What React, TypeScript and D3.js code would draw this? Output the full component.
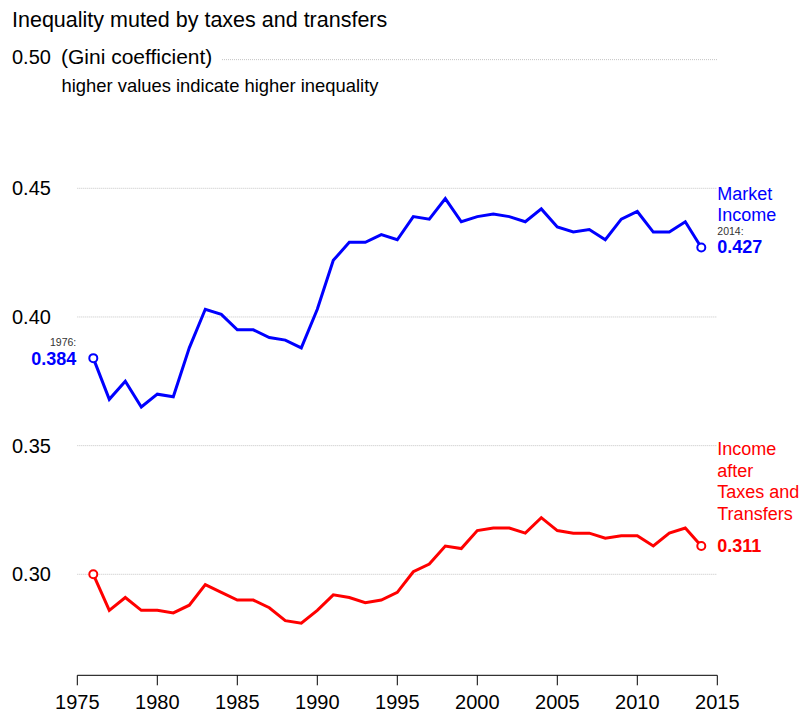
import React from "react";
import * as d3 from "d3";

const years: number[] = d3.range(1976, 2015);
const marketIncome: number[] = [
  0.384, 0.368, 0.375, 0.365, 0.370, 0.369, 0.388, 0.403, 0.401, 0.395,
  0.395, 0.392, 0.391, 0.388, 0.403, 0.422, 0.429, 0.429, 0.432, 0.430,
  0.439, 0.438, 0.446, 0.437, 0.439, 0.440, 0.439, 0.437, 0.442, 0.435,
  0.433, 0.434, 0.430, 0.438, 0.441, 0.433, 0.433, 0.437, 0.427,
];
const afterTaxes: number[] = [
  0.300, 0.286, 0.291, 0.286, 0.286, 0.285, 0.288, 0.296, 0.293, 0.290,
  0.290, 0.287, 0.282, 0.281, 0.286, 0.292, 0.291, 0.289, 0.290, 0.293,
  0.301, 0.304, 0.311, 0.310, 0.317, 0.318, 0.318, 0.316, 0.322, 0.317,
  0.316, 0.316, 0.314, 0.315, 0.315, 0.311, 0.316, 0.318, 0.311,
];
const xTicks: number[] = [1975, 1980, 1985, 1990, 1995, 2000, 2005, 2010, 2015];
const yTicks: number[] = [0.30, 0.35, 0.40, 0.45, 0.50];
const title = "Inequality muted by taxes and transfers";
const yUnit = "(Gini coefficient)";
const subtitle = "higher values indicate higher inequality";
const marketLabel = ["Market", "Income"];
const afterLabel = ["Income", "after", "Taxes and", "Transfers"];

const FONT = "'Liberation Sans', Arial, Helvetica, sans-serif";
const BLUE = "#0000ff";
const RED = "#ff0000";

export default function App() {
  const W = 803;
  const H = 713;
  const x = d3.scaleLinear().domain([1975, 2015]).range([77.3, 717.3]);
  const y = d3.scaleLinear().domain([0.30, 0.45]).range([574.3, 188.3]);
  const axisY = 675.3;
  const line = d3
    .line<number>()
    .x((_, i) => x(years[i]))
    .y((d) => y(d));

  const firstYear = years[0];
  const lastYear = years[years.length - 1];
  const mLast = marketIncome[marketIncome.length - 1];
  const aLast = afterTaxes[afterTaxes.length - 1];
  const mFirst = marketIncome[0];
  const aFirst = afterTaxes[0];
  const labelX = x(lastYear) + 16;
  const leftX = x(firstYear) - 17;
  const topTick = yTicks[yTicks.length - 1];

  return (
    <svg
      width={W}
      height={H}
      style={{ position: "absolute", left: 0, top: 0, background: "#fff" }}
      fontFamily={FONT}
    >
      <rect x={0} y={0} width={W} height={H} fill="#fff" />
      <text x={12} y={27.3} fontSize={21.5} fill="#000">
        {title}
      </text>

      {/* gridlines */}
      {yTicks.map((t) => (
        <line
          key={t}
          x1={t === topTick ? 222 : x(1975)}
          x2={x(2015)}
          y1={y(t)}
          y2={y(t)}
          stroke="#c4c4c4"
          strokeWidth={1}
          strokeDasharray="1,1"
        />
      ))}
      {yTicks.map((t) =>
        t === topTick ? (
          <text key={"l" + t} x={12} y={y(t) + 4.5} fontSize={20} fill="#000">
            {d3.format(".2f")(t)}
            <tspan x={61} fontSize={21}>
              {yUnit}
            </tspan>
          </text>
        ) : (
          <text key={"l" + t} x={12} y={y(t)} dy="0.35em" fontSize={20} fill="#000">
            {d3.format(".2f")(t)}
          </text>
        )
      )}
      <text x={61.5} y={92} fontSize={18.4} fill="#000">
        {subtitle}
      </text>

      {/* x axis */}
      <line x1={x(1975)} x2={x(2015)} y1={axisY} y2={axisY} stroke="#000" strokeWidth={1} />
      {xTicks.map((t) => (
        <g key={t}>
          <line x1={x(t)} x2={x(t)} y1={axisY} y2={axisY + 10} stroke="#000" strokeWidth={1} />
          <text x={x(t)} y={709.3} textAnchor="middle" fontSize={20} fill="#000">
            {t}
          </text>
        </g>
      ))}

      {/* lines */}
      <path d={line(marketIncome) || ""} fill="none" stroke={BLUE} strokeWidth={3} strokeLinejoin="miter" />
      <path d={line(afterTaxes) || ""} fill="none" stroke={RED} strokeWidth={3} strokeLinejoin="miter" />

      {/* end markers */}
      {[
        [firstYear, mFirst, BLUE],
        [lastYear, mLast, BLUE],
        [firstYear, aFirst, RED],
        [lastYear, aLast, RED],
      ].map(([yr, v, c], i) => (
        <circle
          key={i}
          cx={x(yr as number)}
          cy={y(v as number)}
          r={4}
          fill="#fff"
          stroke={c as string}
          strokeWidth={2}
        />
      ))}

      {/* right labels: market */}
      {marketLabel.map((s, i) => (
        <text
          key={"m" + i}
          x={labelX}
          y={y(mLast) - 26 - (marketLabel.length - 1 - i) * 21}
          fontSize={18}
          fill={BLUE}
        >
          {s}
        </text>
      ))}
      <text x={labelX} y={y(mLast) - 12} fontSize={10.5} fill="#333">
        {lastYear + ":"}
      </text>
      <text x={labelX} y={y(mLast) + 6} fontSize={18} fontWeight="bold" fill={BLUE}>
        {d3.format(".3f")(mLast)}
      </text>

      {/* right labels: after taxes */}
      {afterLabel.map((s, i) => (
        <text
          key={"a" + i}
          x={labelX}
          y={y(aLast) - 26 - (afterLabel.length - 1 - i) * 21.5}
          fontSize={18}
          fill={RED}
        >
          {s}
        </text>
      ))}
      <text x={labelX} y={y(aLast) + 6.5} fontSize={18} fontWeight="bold" fill={RED}>
        {d3.format(".3f")(aLast)}
      </text>

      {/* left label */}
      <text x={leftX} y={y(mFirst) - 12} fontSize={10.5} textAnchor="end" fill="#333">
        {firstYear + ":"}
      </text>
      <text x={leftX} y={y(mFirst) + 7} fontSize={18} fontWeight="bold" textAnchor="end" fill={BLUE}>
        {d3.format(".3f")(mFirst)}
      </text>
    </svg>
  );
}
